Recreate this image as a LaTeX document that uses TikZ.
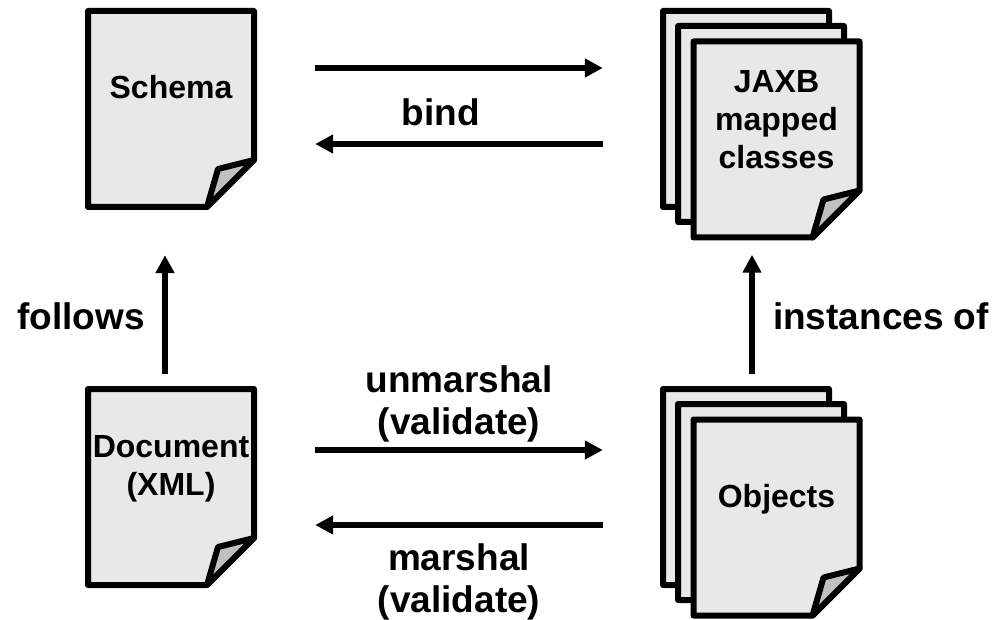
\documentclass[tikz,border=0pt]{standalone}
\usepackage{fontspec}
\setmainfont{Liberation Sans}
\usetikzlibrary{arrows.meta}
\definecolor{pagefill}{HTML}{E8E8E8}
\definecolor{foldfill}{HTML}{C0C0C0}
\tikzset{%
  pageline/.style = {draw, line width=6pt, line join=round},%
  pagebox/.style  = {shape=rectangle, inner sep=0pt, minimum width=166pt, minimum height=196pt},%
  pagetext/.style = {align=center, font=\fontsize{32}{38}\selectfont\bfseries},%
  tag/.style      = {align=center, font=\fontsize{37}{42}\selectfont\bfseries},%
  flow/.style     = {line width=6pt, -{Triangle[length=18pt,width=18pt]}},%
  across/.style   = {flow, shorten <=61pt, shorten >=60pt},%
  back/.style     = {flow, shorten <=60pt, shorten >=61pt},%
  page/.pic       = {%
    \node [pagebox] (-box) at (0,0) {};%
    \draw [pageline, fill=pagefill] (-83,-98) -- (83,-98) -- (83,51) -- (36,98) -- (-83,98) -- cycle;%
    \draw [pageline, fill=foldfill] (83,51) -- (47,60) -- (36,98) -- cycle;%
  }%
}
\begin{document}
\begin{tikzpicture}[x=1pt, y=-1pt]%
	\useasboundingbox (0,0) rectangle (993,620);%
	% left column
	\pic (schema) at (171,109) {page};%
	\pic (document) at (171,487) {page};%
	% right column, stacks of three
	\pic (jaxbA) at (746,109) {page};%
	\pic (jaxbB) at (761,124) {page};%
	\pic (jaxbC) at (776.5,139.5) {page};%
	\pic (objectsA) at (746,487) {page};%
	\pic (objectsB) at (761,502) {page};%
	\pic (objectsC) at (776.5,517.5) {page};%
	% page texts
	\node [pagetext] (schematext) at ([yshift=22pt]schema-box.center) {Schema};%
	\node [pagetext] (documenttext) at ([yshift=18pt]document-box.center) {Document\\(XML)};%
	\node [pagetext] (jaxbtext) at ([yshift=20pt]jaxbC-box.center) {JAXB\\mapped\\classes};%
	\node [pagetext] (objectstext) at ([yshift=18pt]objectsC-box.center) {Objects};%
	% arrows
	\draw [across] ([yshift=41pt]schema-box.east) -- ([yshift=41pt]schema-box.east -| jaxbA-box.west);%
	\draw [back] ([yshift=-35pt]jaxbA-box.west) -- ([yshift=-35pt]jaxbA-box.west -| schema-box.east);%
	\draw [across] ([yshift=37pt]document-box.east) -- ([yshift=37pt]document-box.east -| objectsA-box.west);%
	\draw [back] ([yshift=-38pt]objectsA-box.west) -- ([yshift=-38pt]objectsA-box.west -| document-box.east);%
	\draw [flow, shorten <=15pt, shorten >=48pt] ([xshift=-6pt]document-box.north) -- ([xshift=-6pt]schema-box.south);%
	\draw [flow, shorten <=15pt, shorten >=17pt] ([xshift=6pt]objectsA-box.north) -- ([xshift=6pt]objectsA-box.north |- jaxbC-box.south);%
	% labels
	\node [tag] (bind) at (441,112) {bind};%
	\node [tag] (follows) at (81,316) {follows};%
	\node [tag] (instances) at (881,316) {instances of};%
	\node [tag] (unmarshal) at (459,404) {unmarshal\\(validate)};%
	\node [tag] (marshal) at (459,582) {marshal\\(validate)};%
\end{tikzpicture}
\end{document}
